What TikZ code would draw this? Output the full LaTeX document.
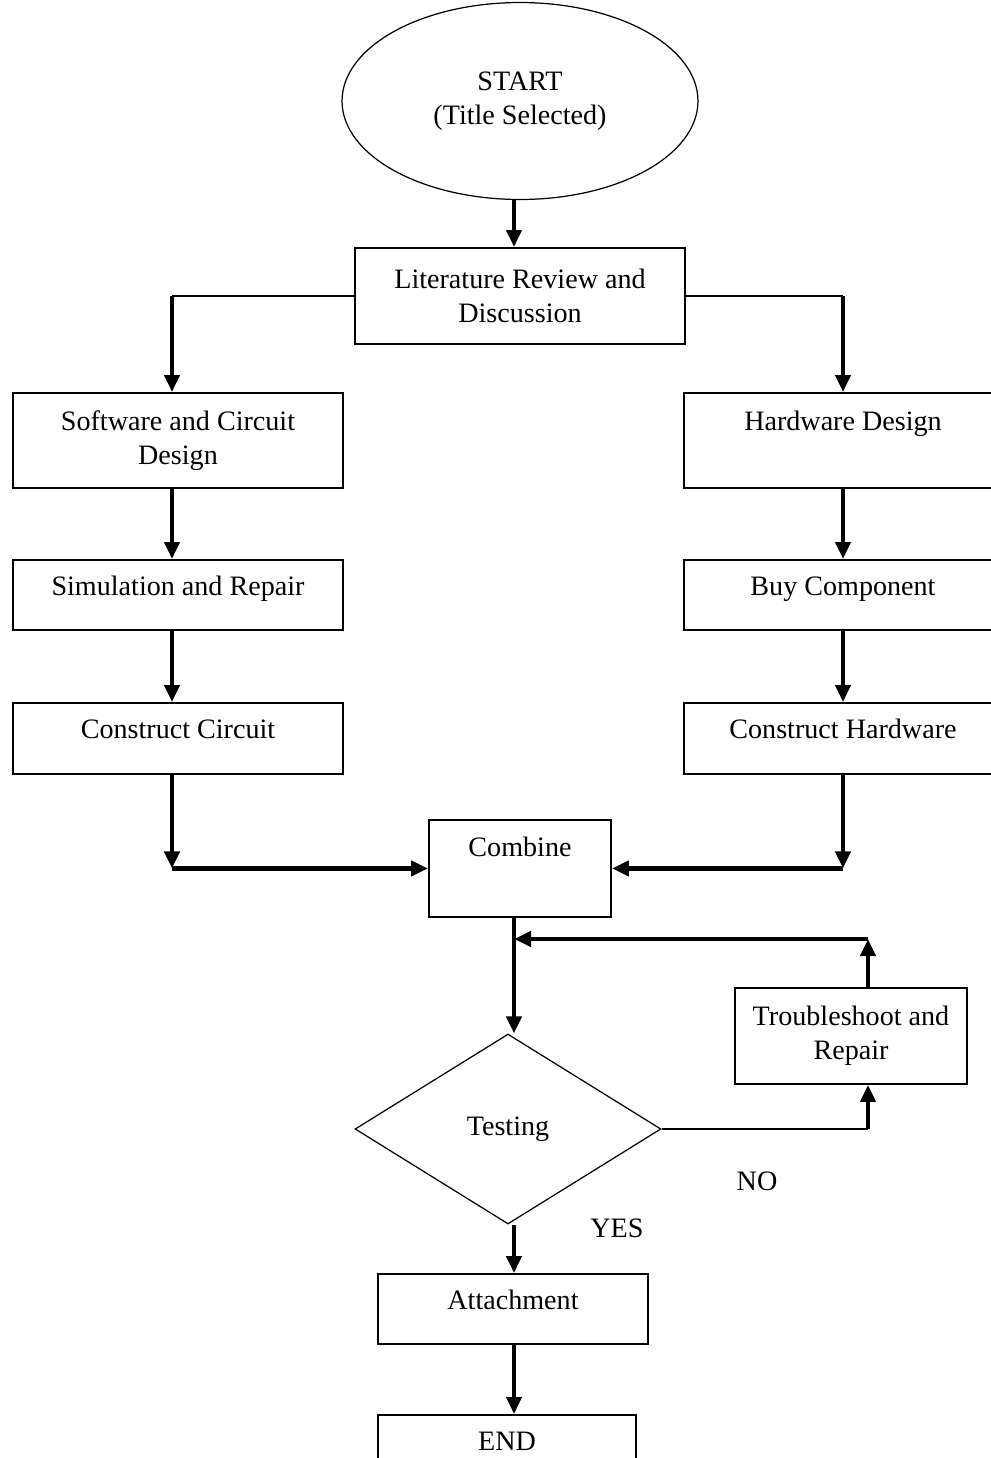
\documentclass[tikz,border=0pt]{standalone}
\usepackage{fontspec}
\setmainfont{Liberation Serif}
\usetikzlibrary{shapes.geometric,arrows.meta}
\begin{document}
\begin{tikzpicture}[x=0.02cm,y=-0.02cm,
  font=\fontsize{16}{19.4}\selectfont,
  box/.style={draw,line width=1.1pt,anchor=north,align=center,inner xsep=0pt},
  one/.style={inner ysep=0pt,text height=0.72cm,text depth=0.68cm},
  flow/.style={line width=2.4pt,-{Triangle[length=0.34cm,width=0.3cm]}},
  conn/.style={line width=1.1pt}]
  \clip (0,0) rectangle (991,1458);
  \node[draw,ellipse,line width=0.7pt,inner sep=0pt,minimum width=7.12cm,minimum height=3.94cm,align=center] (start) at (520,101) {START\\(Title Selected)};
  \node[box,minimum width=6.6cm,minimum height=1.92cm] (lit) at (520,247) {Literature Review and\\Discussion};
  \node[box,minimum width=6.6cm,minimum height=1.9cm] (sw) at (178,392) {Software and Circuit\\Design};
  \node[box,one,minimum width=6.6cm] (sim) at (178,559) {Simulation and Repair};
  \node[box,one,minimum width=6.6cm,text depth=0.7cm] (cc) at (178,702) {Construct Circuit};
  \node[box,one,minimum width=6.36cm,text height=0.76cm,text depth=1.14cm] (hw) at (843,392) {Hardware Design};
  \node[box,one,minimum width=6.36cm] (buy) at (843,559) {Buy Component};
  \node[box,one,minimum width=6.36cm,text depth=0.7cm] (ch) at (843,702) {Construct Hardware};
  \node[box,one,minimum width=3.64cm,text height=0.74cm,text depth=1.2cm] (comb) at (520,819) {Combine};
  \node[box,minimum width=4.64cm,minimum height=1.92cm] (tr) at (851,987) {Troubleshoot and\\Repair};
  \node[draw,diamond,line width=0.7pt,inner sep=0pt,minimum width=6.12cm,minimum height=3.8cm] (test) at (508,1129) {Testing};
  \node[box,one,minimum width=5.4cm] (att) at (513,1273) {Attachment};
  \node[box,one,minimum width=5.16cm] (end) at (507,1414) {END};
  \node (no) at (757,1181) {NO};
  \node (yes) at (617,1228) {YES};
  \coordinate (mid) at (514,0);
  \coordinate (lcol) at (172,0);
  \coordinate (rcol) at (843,0);
  \coordinate (tcol) at (868,0);
  \coordinate (back) at (868,939);
  \draw[flow] (mid |- start.south) -- (mid |- lit.north);
  \draw[conn] (lit.west) -- (lcol |- lit.west);
  \draw[flow] (lcol |- lit.west) -- (lcol |- sw.north);
  \draw[conn] (lit.east) -- (rcol |- lit.east);
  \draw[flow] (rcol |- lit.east) -- (rcol |- hw.north);
  \draw[flow] (lcol |- sw.south) -- (lcol |- sim.north);
  \draw[flow] (lcol |- sim.south) -- (lcol |- cc.north);
  \draw[flow] (rcol |- hw.south) -- (rcol |- buy.north);
  \draw[flow] (rcol |- buy.south) -- (rcol |- ch.north);
  \draw[flow] (lcol |- cc.south) -- (lcol |- comb.west);
  \draw[flow] (lcol |- comb.west) -- (comb.west);
  \draw[flow] (rcol |- ch.south) -- (rcol |- comb.east);
  \draw[flow] (rcol |- comb.east) -- (comb.east);
  \draw[flow] (mid |- comb.south) -- (mid |- test.north);
  \draw[flow] (tcol |- tr.north) -- (back);
  \draw[flow] (back) -- (mid |- back);
  \draw[conn] (test.east) -- (tcol |- test.east);
  \draw[flow] (tcol |- test.east) -- (tcol |- tr.south);
  \draw[flow] (mid |- test.south) -- (mid |- att.north);
  \draw[flow] (mid |- att.south) -- (mid |- end.north);
\end{tikzpicture}
\end{document}
